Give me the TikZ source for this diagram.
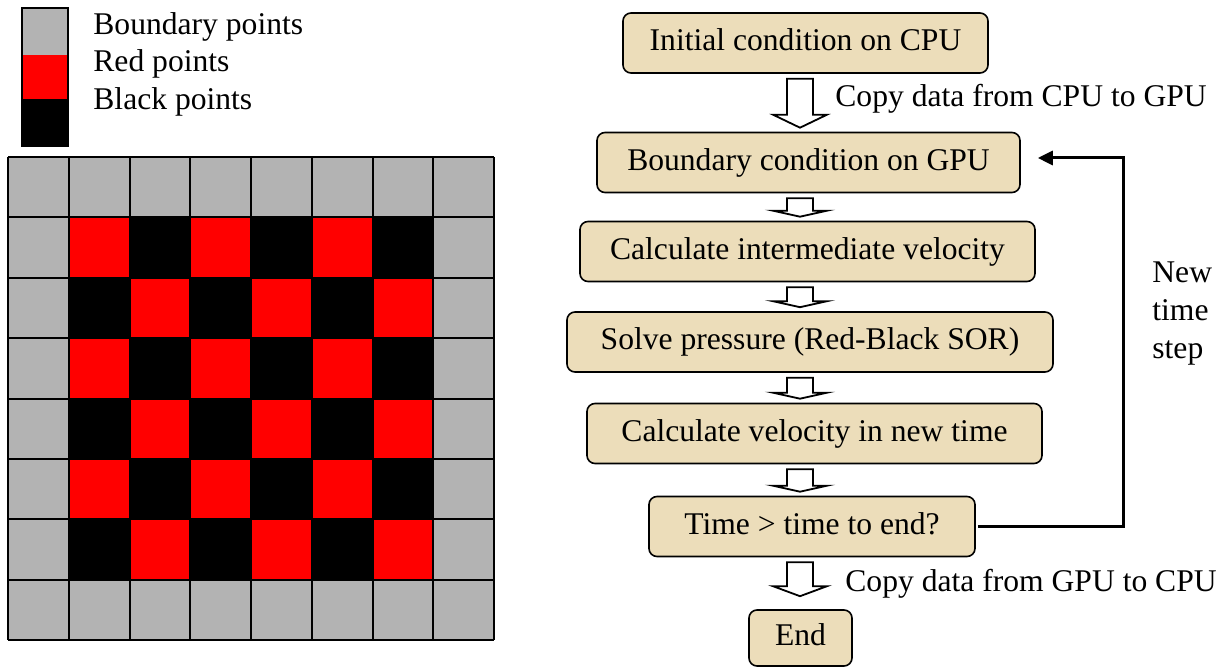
\documentclass[tikz,border=0pt]{standalone}
\usepackage{fontspec}
\setmainfont{Liberation Serif}
\usetikzlibrary{calc, arrows.meta}
\definecolor{boundgray}{RGB}{179,179,179}
\definecolor{pointred}{RGB}{255,0,0}
\definecolor{parchment}{RGB}{236,221,186}

\tikzset{
  cell0/.style={fill=boundgray},
  cell1/.style={fill=pointred},
  cell2/.style={fill=black},
  gridline/.style={line width=1pt},
  flowbox/.style={draw, line width=0.8pt, rounded corners=4pt, fill=parchment,
    inner sep=0pt, text height=0.76em, text depth=0pt, minimum height=30pt},
  blockarrow/.style={draw, fill=white, line width=0.9pt},
  feedback/.style={line width=1.5pt, -{Triangle[length=7.5pt,width=7pt]}}
}

% hollow block arrow from box #2 down to box #3, head height #4, gap at tip #1
\newcommand{\hollowarrow}[4][4]{%
  \draw[blockarrow] ($(#2.south -| col)+(-13,5)$) -- ($(#3.north -| col)+(-13,-#1-#4)$)
    -- ++(-14,0) -- ($(#3.north -| col)+(0,-#1)$) -- ($(#3.north -| col)+(27,-#1-#4)$)
    -- ++(-14,0) -- ($(#2.south -| col)+(13,5)$) -- cycle;}

\begin{document}
\begin{tikzpicture}[x=0.5pt, y=-0.5pt, font=\fontsize{15.8}{19}\selectfont]
    \useasboundingbox (0,0) rectangle (1226,667);

    % legend column
    \fill[boundgray] (22,8) rectangle (68,55);
    \fill[pointred] (22,55) rectangle (68,99);
    \fill[black] (22,99) rectangle (68,146);
    \draw[line width=0.8pt] (22,8) rectangle (68,146);
    \node[anchor=base west, inner sep=0pt] (lgray) at (93,35) {Boundary points};
    \node[anchor=base west, inner sep=0pt] (lred) at (93,72) {Red points};
    \node[anchor=base west, inner sep=0pt] (lblack) at (93,110) {Black points};

    % red-black grid, boundary ring in gray
    \foreach \rowi in {0,...,7}
      \foreach \coli in {0,...,7}{
        \pgfmathtruncatemacro{\kind}{(\rowi==0||\rowi==7||\coli==0||\coli==7) ? 0 : 1+mod(\rowi+\coli,2)}
        \fill[cell\kind] ({8+60.75*\coli},{157+60.4*\rowi}) rectangle ++(60.75,60.4);
      }
    \foreach \i in {0,...,8}{
      \draw[gridline] ({8+60.75*\i},157) -- ({8+60.75*\i},640);
      \draw[gridline] (8,{157+60.4*\i}) -- (494,{157+60.4*\i});
    }

    % flow chart boxes
    \coordinate (col) at (800,0);
    \node[flowbox, minimum width=182.5pt] (init) at (805.5,43) {Initial condition on CPU};
    \node[flowbox, minimum width=211.5pt] (bound) at (808.5,162.5) {Boundary condition on GPU};
    \node[flowbox, minimum width=227.5pt] (inter) at (807.5,251.5) {Calculate intermediate velocity};
    \node[flowbox, minimum width=243pt] (press) at (810,342) {Solve pressure (Red-Black SOR)};
    \node[flowbox, minimum width=227.5pt] (velo) at (814.5,433.5) {Calculate velocity in new time};
    \node[flowbox, minimum width=163pt] (check) at (812,526.5) {Time > time to end?};
    \node[flowbox, minimum width=51.5pt, minimum height=28pt] (finish) at (800.5,638) {End};

    % block arrows between boxes
    \hollowarrow{init}{bound}{13}
    \hollowarrow{bound}{inter}{6}
    \hollowarrow{inter}{press}{6}
    \hollowarrow{press}{velo}{6}
    \hollowarrow{velo}{check}{6}
    \hollowarrow[13]{check}{finish}{10}
    \node[anchor=base west, inner sep=0pt] (copyup) at (835,107) {Copy data from CPU to GPU};
    \node[anchor=base west, inner sep=0pt] (copydown) at (845,592) {Copy data from GPU to CPU};

    % loop back for the next time step
    \coordinate (turn) at (1123,158);
    \draw[feedback, shorten <=1pt, shorten >=8.5pt] (check.east) -| (turn) -- (turn -| bound.east);
    \node[anchor=west, align=left, inner sep=0pt] (newstep) at (1152,314) {New\\time\\step};
\end{tikzpicture}
\end{document}
